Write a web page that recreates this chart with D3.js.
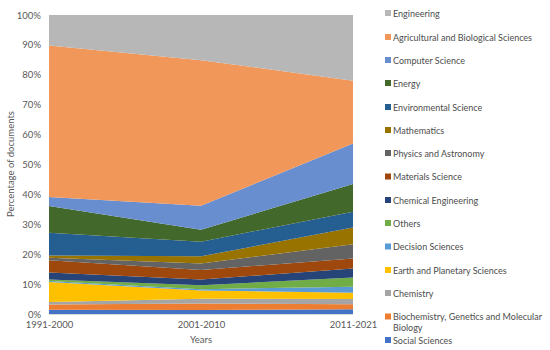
<!DOCTYPE html>
<html>
<head>
<meta charset="utf-8">
<title>Documents by subject area</title>
<style>
  body { margin: 0; background: #fff; }
  svg text { font-family: Lato, "Open Sans", sans-serif; }
</style>
</head>
<body>
<script src="https://cdn.jsdelivr.net/npm/d3@7"></script>
<script>
// periods on the x axis
var periods = ["1991-2000", "2001-2010", "2011-2021"];

// subject areas, bottom of the stack first
var subjects = ["Social Sciences", "Biochemistry, Genetics and Molecular Biology", "Chemistry",
  "Earth and Planetary Sciences", "Decision Sciences", "Others", "Chemical Engineering",
  "Materials Science", "Physics and Astronomy", "Mathematics", "Environmental Science",
  "Energy", "Computer Science", "Agricultural and Biological Sciences", "Engineering"];

// share of documents (%) per subject, one value per period
var socialSci   = [1.4, 1.3, 1.6];
var biochem     = [1.8, 2.2, 1.7];
var chemistry   = [0.8, 1.6, 1.7];
var earthSci    = [6.7, 2.8, 2.1];
var decisionSci = [0.3, 0.4, 2.0];
var others      = [0.5, 1.3, 3.1];
var chemEng     = [2.4, 1.9, 3.0];
var materials   = [4.1, 3.2, 3.4];
var physics     = [0.8, 2.2, 4.7];
var mathematics = [0.8, 2.4, 5.6];
var envSci      = [7.6, 4.9, 5.3];
var energy      = [8.9, 4.0, 9.3];
var compSci     = [3.0, 8.0, 13.5];
var agriBio     = [50.7, 48.7, 21.0];
var engineering = [10.2, 15.1, 22.0];

var series = [socialSci, biochem, chemistry, earthSci, decisionSci, others, chemEng,
  materials, physics, mathematics, envSci, energy, compSci, agriBio, engineering];

var colors = ["#4472C4", "#ED7D31", "#A5A5A5", "#FFC000", "#5B9BD5", "#70AD47", "#264478",
  "#9E480E", "#636363", "#997300", "#255E91", "#43682B", "#698ED0", "#F1975A", "#B7B7B7"];

var yTicks = [0, 0.1, 0.2, 0.3, 0.4, 0.5, 0.6, 0.7, 0.8, 0.9, 1];

var w = 550, h = 350;
var svg = d3.select("body").append("svg")
    .attr("width", w)
    .attr("height", h);

// rows for d3.stack
var table = periods.map(function(p, i) {
  var row = { period: p };
  subjects.forEach(function(s, j) { row[s] = series[j][i] / 100; });
  return row;
});

var x = d3.scalePoint().domain(periods).range([49, 353]);
var y = d3.scaleLinear().domain([0, 1]).range([314, 15]);
var color = d3.scaleOrdinal().domain(subjects).range(colors);

var stack = d3.stack().keys(subjects);
var layers = stack(table);

var area = d3.area()
    .x(function(d) { return x(d.data.period); })
    .y0(function(d) { return y(d[0]); })
    .y1(function(d) { return y(d[1]); });

svg.append("g").selectAll("path")
    .data(layers)
    .enter().append("path")
    .attr("d", area)
    .attr("fill", function(d) { return color(d.key); });

// category axis line
svg.append("line")
    .attr("x1", 49).attr("x2", 353)
    .attr("y1", 314.5).attr("y2", 314.5)
    .attr("stroke", "#D9D9D9");

// y axis
var yAxis = svg.append("g")
    .attr("transform", "translate(41,0)")
    .call(d3.axisLeft(y).tickValues(yTicks).tickSize(0).tickFormat(d3.format(".0%")));
yAxis.select(".domain").remove();
yAxis.selectAll("text")
    .attr("x", 0)
    .attr("fill", "#595959")
    .attr("font-size", "9.5px")
    .style("font-family", "Lato, 'Open Sans', sans-serif");

// x axis
var xAxis = svg.append("g")
    .attr("transform", "translate(0,318)")
    .call(d3.axisBottom(x).tickSize(0));
xAxis.select(".domain").remove();
xAxis.selectAll("text")
    .attr("fill", "#595959")
    .attr("font-size", "9.5px")
    .style("font-family", "Lato, 'Open Sans', sans-serif");

// axis titles
svg.append("text")
    .attr("x", 201).attr("y", 343)
    .attr("text-anchor", "middle")
    .attr("fill", "#595959")
    .attr("font-size", "9.5px")
    .text("Years");

svg.append("text")
    .attr("transform", "translate(14,164) rotate(-90)")
    .attr("text-anchor", "middle")
    .attr("fill", "#595959")
    .attr("font-size", "9.5px")
    .text("Percentage of documents");

// legend, top of the stack first
var legendItems = subjects.slice().reverse();
var legendY = [13, 37, 60, 83, 107, 130, 153, 176.5, 200, 223, 246.5, 270, 293, 316.5, 340];
var legendLines = {
  "Biochemistry, Genetics and Molecular Biology": ["Biochemistry, Genetics and Molecular", "Biology"]
};

var legend = svg.append("g").selectAll("g")
    .data(legendItems)
    .enter().append("g")
    .attr("transform", function(d, i) { return "translate(385," + legendY[i] + ")"; });

legend.append("rect")
    .attr("x", 0).attr("y", -3)
    .attr("width", 6).attr("height", 6)
    .attr("fill", function(d) { return color(d); });

legend.append("text")
    .attr("x", 8)
    .attr("y", 3.5)
    .attr("fill", "#4d4d4d")
    .attr("font-size", "9px")
    .each(function(d) {
      var lines = legendLines[d] || [d];
      var t = d3.select(this);
      lines.forEach(function(l, k) {
        t.append("tspan").attr("x", 8).attr("dy", k ? 11.3 : 0).text(l);
      });
    });
</script>
</body>
</html>
